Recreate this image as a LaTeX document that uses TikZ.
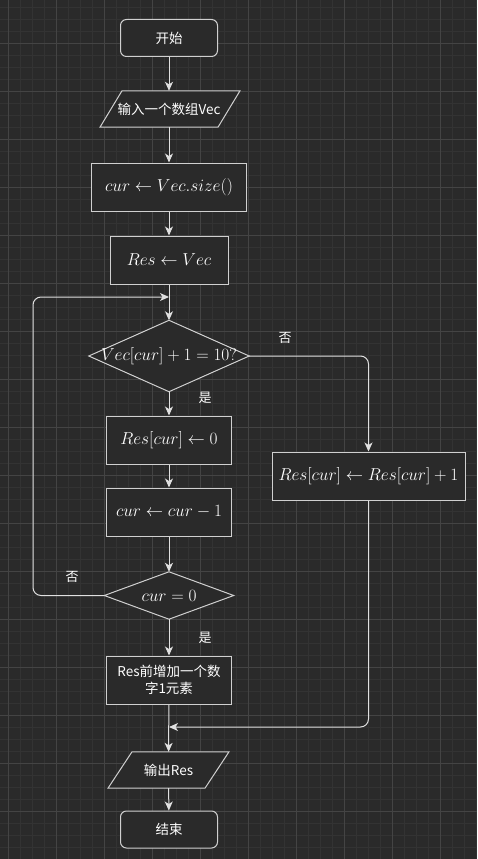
\documentclass[tikz,border=0pt]{standalone}
\usepackage{fontspec}
\newfontfamily\cjk{Noto Sans CJK SC}
\usetikzlibrary{arrows.meta}
\definecolor{bg}{HTML}{2A2A2A}
\definecolor{gminor}{HTML}{333333}
\definecolor{gmajor}{HTML}{444444}
\definecolor{ln}{HTML}{E0E0E0}
\definecolor{bd}{HTML}{D0D0D0}
\pgfdeclarelayer{grid}
\pgfdeclarelayer{shp}
\pgfsetlayers{grid,shp,main}
\tikzset{
  txt/.style={text=white, font=\cjk\fontsize{13.5}{17}\selectfont, align=center},
  mth/.style={text=white, font=\fontsize{16.5}{19}\selectfont},
  proc/.style={draw=bd, fill=bg, line width=1pt, minimum height=48pt, inner sep=2pt},
  term/.style={proc, rounded corners=6pt, minimum width=97pt, minimum height=37pt},
  holder/.style={inner sep=0pt, draw=none},
  shape line/.style={draw=bd, fill=bg, line width=1pt, line join=miter},
  conn/.style={draw=ln, line width=1pt, -{Stealth[length=9pt,width=8pt,inset=2.5pt]}},
  lab/.style={text=white, font=\cjk\fontsize{13}{15}\selectfont},
}
\begin{document}
\begin{tikzpicture}[x=1pt,y=-1pt]
\useasboundingbox (0,0) rectangle (477,859);
\begin{pgfonlayer}{grid}
  \fill[bg] (0,0) rectangle (477,859);
  \foreach \x in {8,20,...,476} \draw[gminor, line width=0.8pt] (\x,0) -- (\x,859);
  \foreach \y in {7,19,...,859} \draw[gminor, line width=0.8pt] (0,\y) -- (477,\y);
  \foreach \x in {8,56,...,476} \draw[gmajor, line width=0.9pt] (\x,0) -- (\x,859);
  \foreach \y in {43,91,...,859} \draw[gmajor, line width=0.9pt] (0,\y) -- (477,\y);
\end{pgfonlayer}

% nodes
\node[term, txt] (start) at (169,38) {开始};
\node[holder, txt, minimum width=96pt, minimum height=36pt] (in) at (169,109) {输入一个数组Vec};
\node[proc, mth, minimum width=155pt] (c1) at (169,187) {$cur \leftarrow Vec.size()$};
\node[proc, mth, minimum width=118pt] (c2) at (169,260) {$Res \leftarrow Vec$};
\node[holder, mth, minimum width=160pt, minimum height=71pt] (d1) at (169,356) {$Vec[cur]+1=10?$};
\node[proc, mth, minimum width=125pt] (c3) at (169,440) {$Res[cur] \leftarrow 0$};
\node[proc, mth, minimum width=125pt] (c4) at (169,512) {$cur \leftarrow cur - 1$};
\node[holder, mth, minimum width=129pt, minimum height=47pt] (d2) at (169,595.5) {$cur = 0$};
\node[proc, txt, minimum width=125pt] (c5) at (169,680) {Res前增加一个数\\字1元素};
\node[holder, txt, minimum width=73pt, minimum height=36pt] (out) at (168.5,770) {输出Res};
\node[term, txt] (end) at (169,829.5) {结束};
\node[proc, mth, minimum width=193pt] (rb) at (368.5,476) {$Res[cur] \leftarrow Res[cur] + 1$};

\begin{pgfonlayer}{shp}
  \draw[shape line] ([xshift=-47pt]in.north) -- ([xshift=71pt]in.north) -- ([xshift=49pt]in.south) -- ([xshift=-69pt]in.south) -- cycle;
  \draw[shape line] ([xshift=-36.5pt]out.north) -- ([xshift=60.5pt]out.north) -- ([xshift=36.5pt]out.south) -- ([xshift=-60.5pt]out.south) -- cycle;
  \draw[shape line] (d1.west) -- (d1.north) -- (d1.east) -- (d1.south) -- cycle;
  \draw[shape line] (d2.west) -- (d2.north) -- (d2.east) -- (d2.south) -- cycle;
\end{pgfonlayer}

% helper coordinates
\coordinate (loopL) at (33,297);
\coordinate (loopJ) at (169,297);
\coordinate (join) at (169,727);

% connectors
\draw[conn] (start) -- (in);
\draw[conn] (in) -- (c1);
\draw[conn] (c1) -- (c2);
\draw[conn] (c2) -- (d1.north);
\draw[conn] (d1.south) -- (c3);
\draw[conn] (c3) -- (c4);
\draw[conn] (c4) -- (d2.north);
\draw[conn] (d2.south) -- (c5);
\draw[conn] (c5) -- (out);
\draw[conn] (out) -- (end);
\draw[conn, rounded corners=8pt] (d1.east) -| (rb.north);
\draw[conn, rounded corners=8pt] (rb.south) |- (join);
\draw[conn, rounded corners=8pt] (d2.west) -| (loopL) -- (loopJ);

% labels
\node[lab] (l1) at (285,338) {否};
\node[lab] (l2) at (205,398) {是};
\node[lab] (l3) at (72,577) {否};
\node[lab] (l4) at (205,638) {是};
\end{tikzpicture}
\end{document}
